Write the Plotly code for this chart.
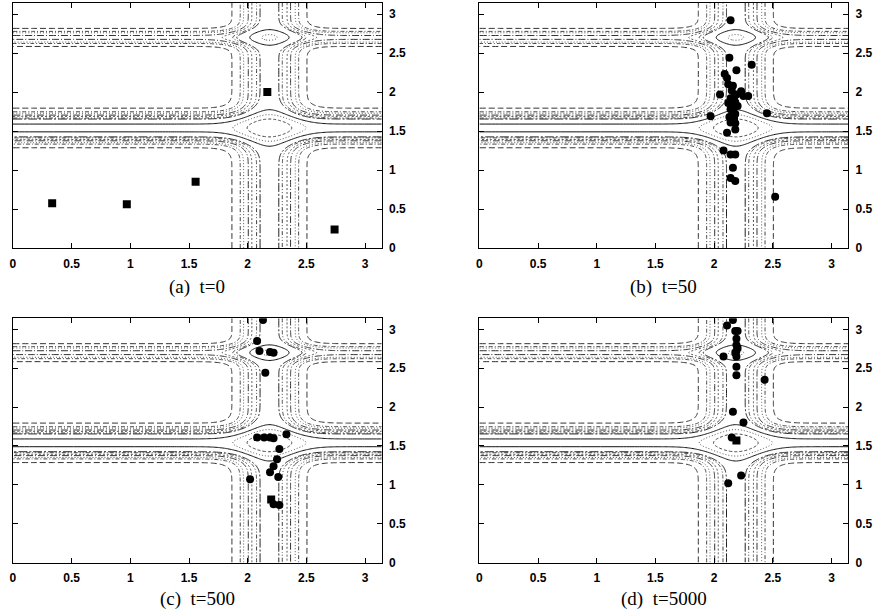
import numpy as np
import plotly.graph_objects as go

W, H = 884, 616
PI = np.pi

# ---- background flow field (three bands: vertical, two horizontal) ----
V_CENTER, V_WIDTH, V_AMP = 2.185, 0.246, 1.0
H1_CENTER, H1_WIDTH, H1_AMP = 1.54, 0.18, 1.35
H2_CENTER, H2_WIDTH, H2_AMP = 2.70, 0.105, 0.62

LEVELS = [0.185, 0.36, 0.45, 0.585, 0.69, 0.82, 0.90, 1.25, 1.55, 1.9]
LEVEL_DASH = ["6px,3px", "4px,2px,1px,2px", "1px,2px", "7px,2px,1px,2px",
              "2px,2px", "4px,2px,1px,2px,1px,2px", "9px,2px,2px,2px",
              "solid", "1px,2px", "3px,2px"]
LEVEL_COLOR = ["#333333", "#444444", "#555555", "#333333", "#555555",
               "#444444", "#222222", "#111111", "#555555", "#444444"]

# ---- particle positions ----
a_sq_x = [0.334, 0.97, 1.556, 2.167, 2.74]
a_sq_y = [0.575, 0.563, 0.85, 2.0, 0.24]

b_x = [2.14, 2.13, 2.32, 2.19, 2.09, 2.11, 2.12, 2.16, 2.05, 2.19, 2.23, 2.25,
       2.29, 2.14, 2.16, 2.18, 2.15, 2.17, 2.14, 2.16, 2.18, 2.15, 2.13, 2.17,
       2.16, 2.14, 2.18, 1.97, 2.11, 2.18, 2.08, 2.14, 2.18, 2.16, 2.14, 2.18,
       2.45, 2.52, 2.20, 2.12, 2.17, 2.15]
b_y = [2.92, 2.44, 2.35, 2.28, 2.23, 2.18, 2.10, 2.08, 1.97, 1.97, 2.01, 1.95,
       1.95, 1.92, 1.90, 1.87, 1.84, 1.80, 1.78, 1.75, 1.72, 1.70, 1.68, 1.66,
       1.63, 1.61, 1.60, 1.69, 1.48, 1.52, 1.25, 1.20, 1.20, 1.03, 0.90, 0.86,
       1.73, 0.66, 1.82, 1.86, 1.93, 2.02]

c_x = [2.13, 2.08, 2.10, 2.19, 2.22, 2.15, 2.08, 2.14, 2.19, 2.22, 2.33, 2.27,
       2.25, 2.22, 2.19, 2.26, 2.02, 2.22, 2.27]
c_y = [3.12, 2.85, 2.72, 2.71, 2.70, 2.44, 1.61, 1.61, 1.61, 1.60, 1.65, 1.46,
       1.33, 1.24, 1.16, 1.10, 1.07, 0.75, 0.74]
c_sq_x = [2.20]
c_sq_y = [0.81]

d_x = [2.16, 2.11, 2.18, 2.20, 2.19, 2.19, 2.19, 2.19, 2.08, 2.19, 2.19, 2.43,
       2.16, 2.25, 2.15, 2.23, 2.12, 2.20, 2.18]
d_y = [3.12, 3.05, 2.98, 2.98, 2.88, 2.80, 2.72, 2.65, 2.65, 2.52, 2.41, 2.35,
       1.94, 1.80, 1.61, 1.12, 1.02, 2.76, 2.70]
d_sq_x = [2.19]
d_sq_y = [1.57]

X_TICKS = [0, 0.5, 1, 1.5, 2, 2.5, 3]
X_TICKTEXT = ["0", "0.5", "1", "1.5", "2", "2.5", "3"]
Y_TICKS = [0, 0.5, 1, 1.5, 2, 2.5, 3]
Y_TICKTEXT = ["0", "0.5", "1", "1.5", "2", "2.5", "3"]

CAPTIONS = ["(a)\u00a0\u00a0t=0", "(b)\u00a0\u00a0t=50",
            "(c)\u00a0\u00a0t=500", "(d)\u00a0\u00a0t=5000"]

# ---- panel placement (pixels) ----
PANELS = [  # left, right, top, bottom
    (10, 380, 3, 251),
    (478, 848, 3, 251),
    (10, 380, 322, 569),
    (478, 848, 322, 569),
]
CAPTION_Y = [290, 290, 606, 606]

# non-uniform grid, dense only where the field varies
xg = np.unique(np.concatenate([np.linspace(0, 1.55, 10), np.linspace(1.55, 2.85, 131),
                               np.linspace(2.85, PI, 5)]))
yg = np.unique(np.concatenate([np.linspace(0, 0.95, 8), np.linspace(0.95, 2.12, 118),
                               np.linspace(2.12, 2.33, 5), np.linspace(2.33, 3.05, 73),
                               np.linspace(3.05, PI, 3)]))
XX, YY = np.meshgrid(xg, yg)
Z = (V_AMP * np.exp(-((XX - V_CENTER) / V_WIDTH) ** 2)
     + H1_AMP * np.exp(-((YY - H1_CENTER) / H1_WIDTH) ** 2)
     + H2_AMP * np.exp(-((YY - H2_CENTER) / H2_WIDTH) ** 2)).astype(np.float32)

fig = go.Figure()

dots = [(None, None, a_sq_x, a_sq_y), (b_x, b_y, None, None),
        (c_x, c_y, c_sq_x, c_sq_y), (d_x, d_y, d_sq_x, d_sq_y)]

for i, (l, r, t, b) in enumerate(PANELS):
    xa = "x" if i == 0 else f"x{i+1}"
    ya = "y" if i == 0 else f"y{i+1}"
    for lev, dash, col in zip(LEVELS, LEVEL_DASH, LEVEL_COLOR):
        fig.add_trace(go.Contour(
            x=xg, y=yg, z=Z, xaxis=xa, yaxis=ya,
            contours=dict(coloring="none", start=lev, end=lev, size=1),
            line=dict(color=col, width=1, dash=dash, smoothing=1),
            showscale=False, hoverinfo="skip"))
    px, py, sx, sy = dots[i]
    if px is not None:
        fig.add_trace(go.Scatter(x=px, y=py, mode="markers", xaxis=xa, yaxis=ya,
                                 marker=dict(symbol="circle", size=8, color="black"),
                                 hoverinfo="skip"))
    if sx is not None:
        fig.add_trace(go.Scatter(x=sx, y=sy, mode="markers", xaxis=xa, yaxis=ya,
                                 marker=dict(symbol="square", size=8, color="black"),
                                 hoverinfo="skip"))
    axis_common = dict(range=[0, PI], showgrid=False, zeroline=False, showline=True,
                       linecolor="black", linewidth=1, mirror="ticks", ticks="inside",
                       ticklen=5, tickcolor="black", ticklabelstandoff=4,
                       tickfont=dict(family="Liberation Sans", size=12, color="black",
                                     weight="bold"))
    fig.update_layout(**{
        ("xaxis" if i == 0 else f"xaxis{i+1}"): dict(
            domain=[l / W, r / W], anchor=ya, tickvals=X_TICKS, ticktext=X_TICKTEXT,
            **axis_common),
        ("yaxis" if i == 0 else f"yaxis{i+1}"): dict(
            domain=[1 - b / H, 1 - t / H], anchor=xa, side="right",
            tickvals=Y_TICKS, ticktext=Y_TICKTEXT, **axis_common),
    })
    fig.add_annotation(x=(l + r) / 2 / W, y=1 - CAPTION_Y[i] / H, xref="paper", yref="paper",
                       text=CAPTIONS[i], showarrow=False, xanchor="center", yanchor="middle",
                       font=dict(family="Liberation Serif", size=19, color="black"))

fig.update_layout(width=W, height=H, margin=dict(l=0, r=0, t=0, b=0),
                  plot_bgcolor="white", paper_bgcolor="white", showlegend=False)

fig.write_html("out.html", config={"displayModeBar": False},
               post_script="document.body.style.margin='0px';")
